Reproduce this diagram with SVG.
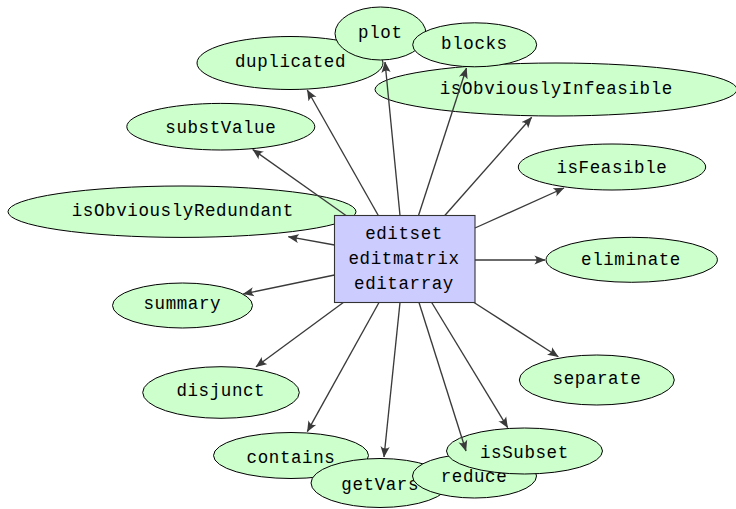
<svg xmlns="http://www.w3.org/2000/svg" width="736" height="509" viewBox="0 0 736 509">
  <style>
    .fn ellipse { fill: #ccffcc; stroke: #000; stroke-width: 1; }
    .hub rect { fill: #ccccff; stroke: #333; stroke-width: 1.1; }
    text { font-family: "Liberation Mono", "DejaVu Sans Mono", monospace; font-size: 17.5px; letter-spacing: 0.6px; text-anchor: middle; fill: #000; }
    .edges line { stroke: #3a3a3a; stroke-width: 1.35; fill: none; marker-end: url(#tip); }
  </style>
  <defs>
    <marker id="tip" viewBox="0 0 11 10" refX="10.6" refY="5" markerWidth="11" markerHeight="10" markerUnits="userSpaceOnUse" orient="auto">
      <path d="M11,5 L0,0.4 Q4.2,5 0,9.6 Z" fill="#3a3a3a"/>
    </marker>
  </defs>

  <rect width="736" height="509" fill="#fff"/>

  <!-- function nodes -->
  <g id="isObviouslyInfeasible" class="fn">
    <ellipse cx="556" cy="89.5" rx="181" ry="26.5"/>
    <text x="556.3" y="94.3">isObviouslyInfeasible</text>
  </g>
  <g id="duplicated" class="fn">
    <ellipse cx="290" cy="63" rx="93" ry="26.5"/>
    <text x="290.5" y="66.7">duplicated</text>
  </g>
  <g id="plot" class="fn">
    <ellipse cx="380.5" cy="33.5" rx="45.5" ry="26.5"/>
    <text x="380.3" y="37.5">plot</text>
  </g>
  <g id="blocks" class="fn">
    <ellipse cx="474.7" cy="44.8" rx="62" ry="22"/>
    <text x="474.4" y="49.3">blocks</text>
  </g>
  <g id="substValue" class="fn">
    <ellipse cx="220.8" cy="126.7" rx="94" ry="23.3"/>
    <text x="220.8" y="132.7">substValue</text>
  </g>
  <g id="isFeasible" class="fn">
    <ellipse cx="612" cy="167" rx="93.7" ry="23"/>
    <text x="611.9" y="173">isFeasible</text>
  </g>
  <g id="isObviouslyRedundant" class="fn">
    <ellipse cx="182" cy="211.7" rx="174" ry="25.7"/>
    <text x="182.8" y="216">isObviouslyRedundant</text>
  </g>
  <g id="eliminate" class="fn">
    <ellipse cx="631.7" cy="259.8" rx="85.7" ry="22.5"/>
    <text x="631" y="265">eliminate</text>
  </g>
  <g id="summary" class="fn">
    <ellipse cx="182.5" cy="305.5" rx="70" ry="22.5"/>
    <text x="182.3" y="309.3">summary</text>
  </g>
  <g id="separate" class="fn">
    <ellipse cx="596.8" cy="380" rx="77.5" ry="25"/>
    <text x="597" y="383.5">separate</text>
  </g>
  <g id="disjunct" class="fn">
    <ellipse cx="221" cy="392.5" rx="78.3" ry="25.8"/>
    <text x="220.8" y="396">disjunct</text>
  </g>
  <g id="contains" class="fn">
    <ellipse cx="291" cy="455.5" rx="77.5" ry="23"/>
    <text x="291" y="462.5">contains</text>
  </g>
  <g id="getVars" class="fn">
    <ellipse cx="380" cy="483" rx="69" ry="24.5"/>
    <text x="380.2" y="490">getVars</text>
  </g>
  <g id="reduce" class="fn">
    <ellipse cx="474.5" cy="476" rx="62" ry="22"/>
    <text x="474" y="481.5">reduce</text>
  </g>
  <g id="isSubset" class="fn">
    <ellipse cx="524.5" cy="451" rx="78" ry="23"/>
    <text x="524.4" y="458">isSubset</text>
  </g>

  <!-- central class node -->
  <g id="editset" class="hub">
    <rect x="334.5" y="215.5" width="140.5" height="87"/>
    <text x="404" y="238.5">editset</text>
    <text x="404" y="263.5">editmatrix</text>
    <text x="404" y="288.5">editarray</text>
  </g>

  <!-- connectors -->
  <g id="connectors" class="edges">
    <line x1="400" y1="215.5" x2="385" y2="62"/>
    <line x1="418.5" y1="215.5" x2="466.5" y2="68"/>
    <line x1="378.3" y1="215.5" x2="307.3" y2="90"/>
    <line x1="346" y1="215.5" x2="252.7" y2="149.5"/>
    <line x1="334.5" y1="245" x2="288.3" y2="236.7"/>
    <line x1="334.5" y1="275" x2="243.3" y2="294"/>
    <line x1="343.3" y1="302.5" x2="256" y2="366.7"/>
    <line x1="379" y1="302.5" x2="307.3" y2="431.7"/>
    <line x1="400" y1="302.5" x2="384" y2="457"/>
    <line x1="419" y1="302.5" x2="466" y2="451"/>
    <line x1="431.7" y1="302.5" x2="507.7" y2="427.7"/>
    <line x1="474" y1="302.5" x2="558.3" y2="356.7"/>
    <line x1="475" y1="260" x2="545" y2="260"/>
    <line x1="475" y1="228" x2="564" y2="188"/>
    <line x1="444.8" y1="215.5" x2="531.7" y2="117.3"/>
  </g>
</svg>
